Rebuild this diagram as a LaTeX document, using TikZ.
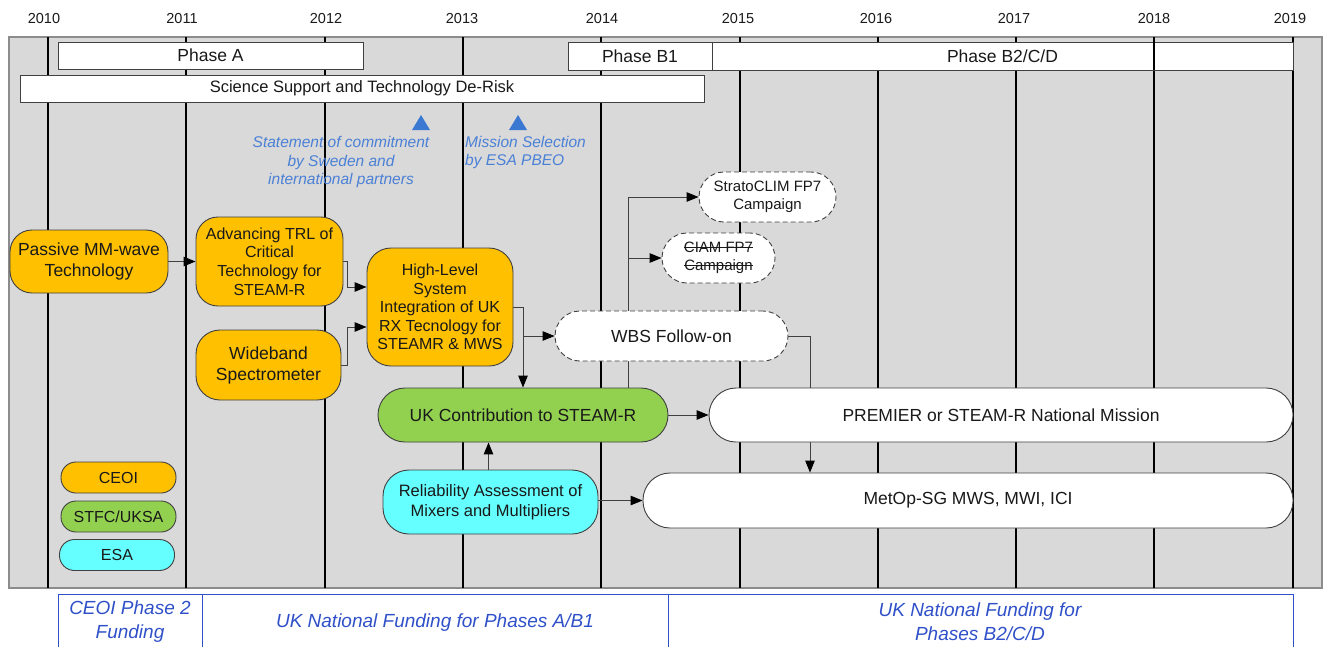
\documentclass[tikz,border=0pt]{standalone}
\usepackage{fontspec}
\setmainfont{Liberation Sans}
\usetikzlibrary{arrows.meta,calc}
\pgfdeclarelayer{back}
\pgfdeclarelayer{wires}
\pgfsetlayers{back,wires,main}

\definecolor{ceoi}{HTML}{FFC000}
\definecolor{stfc}{HTML}{92D050}
\definecolor{esa}{HTML}{66FFFF}
\definecolor{panel}{HTML}{D9D9D9}
\definecolor{edge}{HTML}{404040}
\definecolor{note}{HTML}{4A80D6}
\definecolor{milestone}{HTML}{3A78D2}
\definecolor{fund}{HTML}{2F50C8}

\newcommand{\txtbig}{\fontsize{17.5}{21}\selectfont}
\newcommand{\txtmid}{\fontsize{16}{18.6}\selectfont}
\newcommand{\txtsmall}{\fontsize{15}{18}\selectfont}
\newcommand{\txtyear}{\fontsize{14.5}{17}\selectfont}
\newcommand{\txtnote}{\fontsize{15.5}{18.6}\selectfont\itshape}
\newcommand{\txtfund}{\fontsize{19}{24}\selectfont\itshape}
% struck-through text
\newcommand{\strk}[1]{\leavevmode\setbox0\hbox{#1}\rlap{\rule[0.33em]{\wd0}{1pt}}\box0}

\tikzset{
  item/.style={draw=edge, line width=0.9pt, align=center, inner sep=0pt, text=black!90},
  phasebox/.style={item, fill=white, font=\txtbig},
  dashbox/.style={item, fill=white, dashed, dash pattern=on 5pt off 3pt},
  arr/.style={draw=edge, line width=1pt, -{Triangle[length=12pt,width=9.5pt,color=black]}},
  yearline/.style={draw=black, line width=2pt},
  notetext/.style={text=note, font=\txtnote, inner sep=0pt},
  fundtext/.style={text=fund, font=\txtfund, align=center, inner sep=0pt},
}

\begin{document}
\begin{tikzpicture}[x=1pt,y=-1pt]
\useasboundingbox (0,0) rectangle (1324,646);

% timeline panel and year grid
\begin{pgfonlayer}{back}
  \filldraw[fill=panel, draw=gray!90, line width=1.2pt] (9,37) rectangle (1322,588);
  \foreach \k in {0,...,9}
    \draw[yearline] (48+138.3*\k,37) -- (48+138.3*\k,588);
\end{pgfonlayer}

\foreach \px/\yr in {44/2010,182/2011,326/2012,462/2013,602/2014,738/2015,876/2016,1014/2017,1154/2018,1290/2019}
  \node[font=\txtyear, text=black!90, inner sep=0pt] (year\yr) at (\px,19) {\yr};

% programme phases
\node[phasebox, minimum width=305pt, minimum height=27pt] (phaseA) at (210.5,55.5) {Phase A};
\node[phasebox, minimum width=144pt, minimum height=28pt] (phaseB1) at (640,56) {Phase B1};
\node[phasebox, minimum width=581pt, minimum height=28pt] (phaseB2) at (1002.5,56) {Phase B2/C/D};
\draw[yearline] (1154.4,42) -- (1154.4,70);
\node[phasebox, minimum width=684pt, minimum height=27pt, font=\fontsize{16.5}{19}\selectfont] (derisk) at (362,88.5) {Science Support and Technology De-Risk};

% milestones
\fill[milestone] (412,130) -- (421,115) -- (430,130) -- cycle;
\fill[milestone] (509,130) -- (518,115) -- (527,130) -- cycle;
\node[notetext, align=center] (commit) at (341,162) {Statement of commitment\\by Sweden and\\international partners};
\node[notetext, align=left, anchor=west] (select) at (465,152.5) {Mission Selection\\by ESA PBEO};

% activities
\node[item, fill=ceoi, rounded corners=22pt, minimum width=158pt, minimum height=63pt, font=\txtbig] (passive) at (89,261.5) {Passive MM-wave\\Technology};
\node[item, fill=ceoi, rounded corners=22pt, minimum width=147pt, minimum height=89pt, font=\txtmid] (trl) at (269.5,261.5) {Advancing TRL of\\Critical\\Technology for\\STEAM-R};
\node[item, fill=ceoi, rounded corners=24pt, minimum width=145pt, minimum height=70pt, font=\txtbig] (wide) at (268.5,365) {Wideband\\Spectrometer};
\node[item, fill=ceoi, rounded corners=24pt, minimum width=146pt, minimum height=118pt, font=\txtmid] (hls) at (440,307) {High-Level\\System\\Integration of UK\\RX Tecnology for\\STEAMR \& MWS};
\node[dashbox, rounded corners=25pt, minimum width=233pt, minimum height=50pt, font=\txtbig] (wbs) at (671.5,336) {WBS Follow-on};
\node[dashbox, rounded corners=25pt, minimum width=137pt, minimum height=50pt, font=\txtsmall] (strato) at (767.5,197) {StratoCLIM FP7\\Campaign};
\node[dashbox, rounded corners=25pt, minimum width=113pt, minimum height=50pt, font=\txtsmall] (ciam) at (718.5,258) {\strk{CIAM FP7}\\\strk{Campaign}};
\node[item, fill=stfc, rounded corners=27pt, minimum width=290pt, minimum height=54pt, font=\txtbig] (ukc) at (523,415) {UK Contribution to STEAM-R};
\node[item, fill=white, rounded corners=27pt, minimum width=584pt, minimum height=54pt, font=\txtbig] (premier) at (1001,415) {PREMIER or STEAM-R National Mission};
\node[item, fill=esa, rounded corners=26pt, minimum width=215pt, minimum height=64pt, font=\fontsize{16.5}{20}\selectfont] (rel) at (490.5,502) {Reliability Assessment of\\Mixers and Multipliers};
\node[item, fill=white, rounded corners=27pt, minimum width=650pt, minimum height=55pt, font=\txtbig] (metop) at (968,500.5) {MetOp-SG MWS, MWI, ICI};

% legend
\node[item, fill=ceoi, rounded corners=15pt, minimum width=115pt, minimum height=31pt, font=\txtmid] (legceoi) at (118.5,477.5) {CEOI};
\node[item, fill=stfc, rounded corners=15pt, minimum width=115pt, minimum height=31pt, font=\txtmid] (legstfc) at (118.5,516.5) {STFC/UKSA};
\node[item, fill=esa, rounded corners=15pt, minimum width=115pt, minimum height=31pt, font=\txtmid] (legesa) at (117,555) {ESA};

% connectors (kept behind the activity boxes)
\begin{pgfonlayer}{wires}
  \coordinate (tap) at ($(ukc.north)+(105,0)$);
  \coordinate (drop) at ($(metop.north)+(-158,0)$);
  \draw[arr] (passive.east) -- (trl.west);
  \draw[arr] (trl.east) -- ++(4,0) |- ($(hls.west)+(0,-20)$);
  \draw[arr] (wide.east) -- ++(6,0) |- ($(hls.west)+(0,20)$);
  \draw[arr] (hls.east) -| (ukc.north);
  \draw[arr] (ukc.north |- wbs.west) -- (wbs.west);
  \draw[arr] (tap) |- (strato.west);
  \draw[arr] (tap |- ciam.west) -- (ciam.west);
  \draw[arr] (wbs.east) -| (drop);
  \draw[arr] (ukc.east) -- (premier.west);
  \draw[arr] ($(rel.north)+(-2,0)$) -- ($(rel.north |- ukc.south)+(-2,0)$);
  \draw[arr] (rel.east |- metop.west) -- (metop.west);
\end{pgfonlayer}

% funding bands
\draw[fund, line width=1pt] (58,650) -- (58,594) -- (1293,594) -- (1293,650);
\draw[fund, line width=1pt] (202,594) -- (202,650);
\draw[fund, line width=1pt] (668,594) -- (668,650);
\node[fundtext] (fundceoi) at (130,622) {CEOI Phase 2\\Funding};
\node[fundtext] (fundab) at (435,623) {UK National Funding for Phases A/B1};
\node[fundtext] (fundbcd) at (980,622) {UK National Funding for\\Phases B2/C/D};
\end{tikzpicture}
\end{document}
